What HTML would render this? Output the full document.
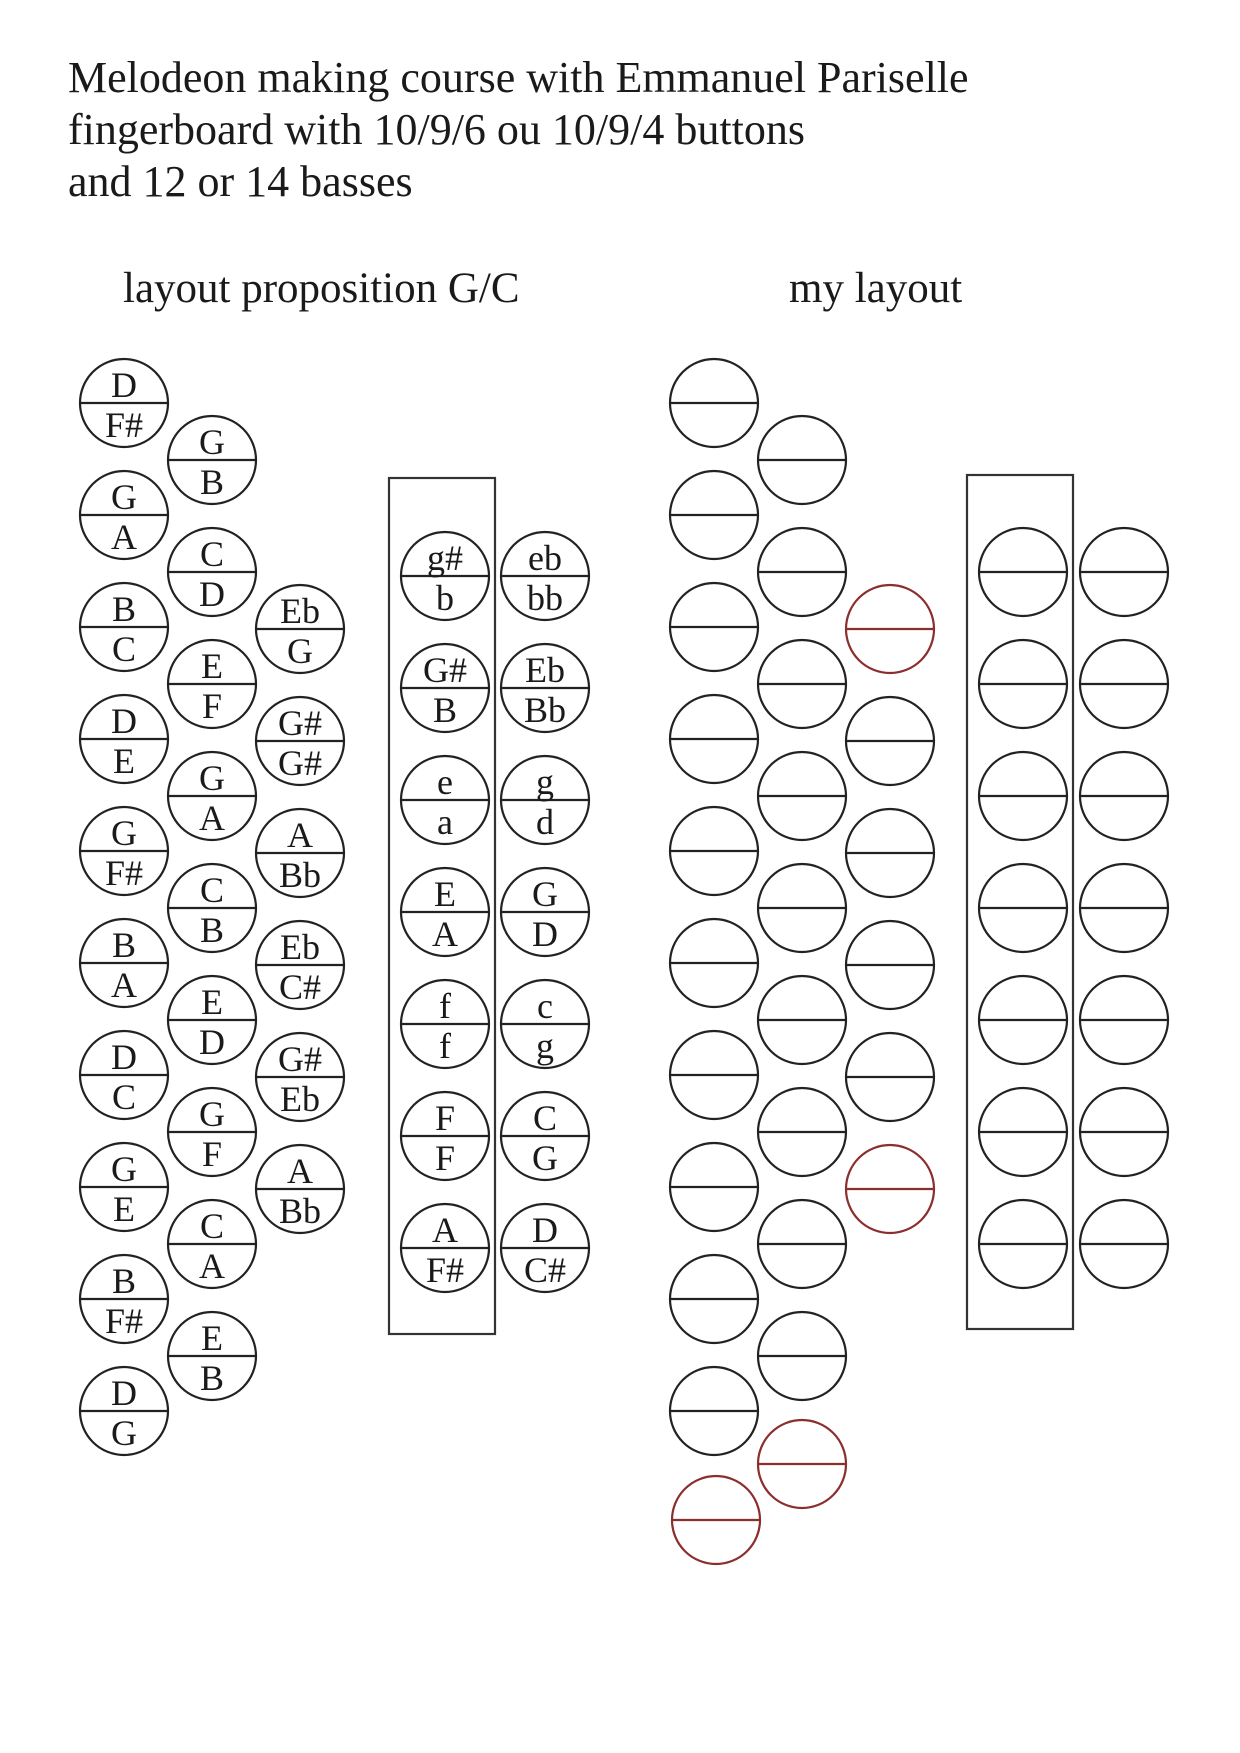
<!DOCTYPE html>
<html><head><meta charset="utf-8"><style>
html,body{margin:0;padding:0;background:#fff}
svg{display:block}
.t{font-family:"Liberation Serif",serif;fill:#1a1a1a}
.b ellipse{fill:none;stroke:#222;stroke-width:2.2}
.b line{stroke:#222;stroke-width:2.2}
.b text{font-family:"Liberation Serif",serif;font-size:36px;text-anchor:middle;fill:#1a1a1a}
.r ellipse,.r line{stroke:#8b2e2e}
</style></head><body>
<svg width="1240" height="1753" viewBox="0 0 1240 1753" xmlns="http://www.w3.org/2000/svg">
<defs>
<g id="e" class="b"><ellipse rx="44" ry="44"/><line x1="-44" x2="44" y1="0" y2="0"/></g>
<g id="er" class="b r"><ellipse rx="44" ry="44"/><line x1="-44" x2="44" y1="0" y2="0"/></g>
</defs>
<text class="t" x="68" y="92" font-size="44">Melodeon making course with Emmanuel Pariselle</text>
<text class="t" x="68" y="144" font-size="44">fingerboard with 10/9/6 ou 10/9/4 buttons</text>
<text class="t" x="68" y="196" font-size="44">and 12 or 14 basses</text>
<text class="t" x="123" y="302" font-size="43">layout proposition G/C</text>
<text class="t" x="789" y="302" font-size="43">my layout</text>

<!-- left col A -->
<g class="b" transform="translate(124,403)"><ellipse rx="44" ry="44"/><line x1="-44" x2="44"/><text y="-6">D</text><text y="34">F#</text></g>
<g class="b" transform="translate(124,515)"><ellipse rx="44" ry="44"/><line x1="-44" x2="44"/><text y="-6">G</text><text y="34">A</text></g>
<g class="b" transform="translate(124,627)"><ellipse rx="44" ry="44"/><line x1="-44" x2="44"/><text y="-6">B</text><text y="34">C</text></g>
<g class="b" transform="translate(124,739)"><ellipse rx="44" ry="44"/><line x1="-44" x2="44"/><text y="-6">D</text><text y="34">E</text></g>
<g class="b" transform="translate(124,851)"><ellipse rx="44" ry="44"/><line x1="-44" x2="44"/><text y="-6">G</text><text y="34">F#</text></g>
<g class="b" transform="translate(124,963)"><ellipse rx="44" ry="44"/><line x1="-44" x2="44"/><text y="-6">B</text><text y="34">A</text></g>
<g class="b" transform="translate(124,1075)"><ellipse rx="44" ry="44"/><line x1="-44" x2="44"/><text y="-6">D</text><text y="34">C</text></g>
<g class="b" transform="translate(124,1187)"><ellipse rx="44" ry="44"/><line x1="-44" x2="44"/><text y="-6">G</text><text y="34">E</text></g>
<g class="b" transform="translate(124,1299)"><ellipse rx="44" ry="44"/><line x1="-44" x2="44"/><text y="-6">B</text><text y="34">F#</text></g>
<g class="b" transform="translate(124,1411)"><ellipse rx="44" ry="44"/><line x1="-44" x2="44"/><text y="-6">D</text><text y="34">G</text></g>
<!-- left col B -->
<g class="b" transform="translate(212,460)"><ellipse rx="44" ry="44"/><line x1="-44" x2="44"/><text y="-6">G</text><text y="34">B</text></g>
<g class="b" transform="translate(212,572)"><ellipse rx="44" ry="44"/><line x1="-44" x2="44"/><text y="-6">C</text><text y="34">D</text></g>
<g class="b" transform="translate(212,684)"><ellipse rx="44" ry="44"/><line x1="-44" x2="44"/><text y="-6">E</text><text y="34">F</text></g>
<g class="b" transform="translate(212,796)"><ellipse rx="44" ry="44"/><line x1="-44" x2="44"/><text y="-6">G</text><text y="34">A</text></g>
<g class="b" transform="translate(212,908)"><ellipse rx="44" ry="44"/><line x1="-44" x2="44"/><text y="-6">C</text><text y="34">B</text></g>
<g class="b" transform="translate(212,1020)"><ellipse rx="44" ry="44"/><line x1="-44" x2="44"/><text y="-6">E</text><text y="34">D</text></g>
<g class="b" transform="translate(212,1132)"><ellipse rx="44" ry="44"/><line x1="-44" x2="44"/><text y="-6">G</text><text y="34">F</text></g>
<g class="b" transform="translate(212,1244)"><ellipse rx="44" ry="44"/><line x1="-44" x2="44"/><text y="-6">C</text><text y="34">A</text></g>
<g class="b" transform="translate(212,1356)"><ellipse rx="44" ry="44"/><line x1="-44" x2="44"/><text y="-6">E</text><text y="34">B</text></g>
<!-- left col C -->
<g class="b" transform="translate(300,629)"><ellipse rx="44" ry="44"/><line x1="-44" x2="44"/><text y="-6">Eb</text><text y="34">G</text></g>
<g class="b" transform="translate(300,741)"><ellipse rx="44" ry="44"/><line x1="-44" x2="44"/><text y="-6">G#</text><text y="34">G#</text></g>
<g class="b" transform="translate(300,853)"><ellipse rx="44" ry="44"/><line x1="-44" x2="44"/><text y="-6">A</text><text y="34">Bb</text></g>
<g class="b" transform="translate(300,965)"><ellipse rx="44" ry="44"/><line x1="-44" x2="44"/><text y="-6">Eb</text><text y="34">C#</text></g>
<g class="b" transform="translate(300,1077)"><ellipse rx="44" ry="44"/><line x1="-44" x2="44"/><text y="-6">G#</text><text y="34">Eb</text></g>
<g class="b" transform="translate(300,1189)"><ellipse rx="44" ry="44"/><line x1="-44" x2="44"/><text y="-6">A</text><text y="34">Bb</text></g>

<!-- left bass -->
<rect x="389" y="478" width="106" height="856" fill="none" stroke="#333" stroke-width="2.2"/>
<g class="b" transform="translate(445,576)"><ellipse rx="44" ry="44"/><line x1="-44" x2="44"/><text y="-6">g#</text><text y="34">b</text></g>
<g class="b" transform="translate(445,688)"><ellipse rx="44" ry="44"/><line x1="-44" x2="44"/><text y="-6">G#</text><text y="34">B</text></g>
<g class="b" transform="translate(445,800)"><ellipse rx="44" ry="44"/><line x1="-44" x2="44"/><text y="-6">e</text><text y="34">a</text></g>
<g class="b" transform="translate(445,912)"><ellipse rx="44" ry="44"/><line x1="-44" x2="44"/><text y="-6">E</text><text y="34">A</text></g>
<g class="b" transform="translate(445,1024)"><ellipse rx="44" ry="44"/><line x1="-44" x2="44"/><text y="-6">f</text><text y="34">f</text></g>
<g class="b" transform="translate(445,1136)"><ellipse rx="44" ry="44"/><line x1="-44" x2="44"/><text y="-6">F</text><text y="34">F</text></g>
<g class="b" transform="translate(445,1248)"><ellipse rx="44" ry="44"/><line x1="-44" x2="44"/><text y="-6">A</text><text y="34">F#</text></g>
<g class="b" transform="translate(545,576)"><ellipse rx="44" ry="44"/><line x1="-44" x2="44"/><text y="-6">eb</text><text y="34">bb</text></g>
<g class="b" transform="translate(545,688)"><ellipse rx="44" ry="44"/><line x1="-44" x2="44"/><text y="-6">Eb</text><text y="34">Bb</text></g>
<g class="b" transform="translate(545,800)"><ellipse rx="44" ry="44"/><line x1="-44" x2="44"/><text y="-6">g</text><text y="34">d</text></g>
<g class="b" transform="translate(545,912)"><ellipse rx="44" ry="44"/><line x1="-44" x2="44"/><text y="-6">G</text><text y="34">D</text></g>
<g class="b" transform="translate(545,1024)"><ellipse rx="44" ry="44"/><line x1="-44" x2="44"/><text y="-6">c</text><text y="34">g</text></g>
<g class="b" transform="translate(545,1136)"><ellipse rx="44" ry="44"/><line x1="-44" x2="44"/><text y="-6">C</text><text y="34">G</text></g>
<g class="b" transform="translate(545,1248)"><ellipse rx="44" ry="44"/><line x1="-44" x2="44"/><text y="-6">D</text><text y="34">C#</text></g>

<!-- right side -->
<use href="#e" x="714" y="403"/><use href="#e" x="714" y="515"/><use href="#e" x="714" y="627"/><use href="#e" x="714" y="739"/><use href="#e" x="714" y="851"/><use href="#e" x="714" y="963"/><use href="#e" x="714" y="1075"/><use href="#e" x="714" y="1187"/><use href="#e" x="714" y="1299"/><use href="#e" x="714" y="1411"/>
<use href="#er" x="716" y="1520"/>
<use href="#e" x="802" y="460"/><use href="#e" x="802" y="572"/><use href="#e" x="802" y="684"/><use href="#e" x="802" y="796"/><use href="#e" x="802" y="908"/><use href="#e" x="802" y="1020"/><use href="#e" x="802" y="1132"/><use href="#e" x="802" y="1244"/><use href="#e" x="802" y="1356"/>
<use href="#er" x="802" y="1464"/>
<use href="#er" x="890" y="629"/><use href="#e" x="890" y="741"/><use href="#e" x="890" y="853"/><use href="#e" x="890" y="965"/><use href="#e" x="890" y="1077"/><use href="#er" x="890" y="1189"/>
<rect x="967" y="475" width="106" height="854" fill="none" stroke="#333" stroke-width="2.2"/>
<use href="#e" x="1023" y="572"/><use href="#e" x="1023" y="684"/><use href="#e" x="1023" y="796"/><use href="#e" x="1023" y="908"/><use href="#e" x="1023" y="1020"/><use href="#e" x="1023" y="1132"/><use href="#e" x="1023" y="1244"/>
<use href="#e" x="1124" y="572"/><use href="#e" x="1124" y="684"/><use href="#e" x="1124" y="796"/><use href="#e" x="1124" y="908"/><use href="#e" x="1124" y="1020"/><use href="#e" x="1124" y="1132"/><use href="#e" x="1124" y="1244"/>
</svg>
</body></html>
